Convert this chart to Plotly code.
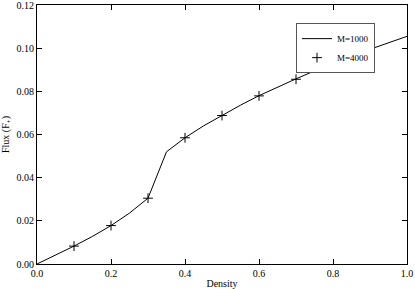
import plotly.graph_objects as go

x_line = [0.0, 0.05, 0.1, 0.15, 0.2, 0.25, 0.3, 0.35, 0.4, 0.45, 0.5, 0.55, 0.6, 0.65, 0.7, 0.75, 0.8, 0.85, 0.9, 0.95, 1.0]
y_line = [0.0, 0.0041, 0.0083, 0.0128, 0.0178, 0.0236, 0.0305, 0.0520, 0.0585, 0.0640, 0.0690, 0.0736, 0.0780, 0.0820, 0.0858, 0.0895, 0.0930, 0.0963, 0.0995, 0.1025, 0.1055]
x_mark = [0.1, 0.2, 0.3, 0.4, 0.5, 0.6, 0.7, 0.8, 0.9]
y_mark = [0.0083, 0.0178, 0.0305, 0.0585, 0.0688, 0.0779, 0.0856, 0.0928, 0.0993]
x_ticks = [0.0, 0.2, 0.4, 0.6, 0.8, 1.0]
y_ticks = [0.0, 0.02, 0.04, 0.06, 0.08, 0.10, 0.12]

fnt = dict(family="Liberation Serif", size=10, color="black")

fig = go.Figure()
fig.add_trace(go.Scatter(x=x_line, y=y_line, mode="lines", name="M=1000",
                         line=dict(color="black", width=1)))
fig.add_trace(go.Scatter(x=x_mark, y=y_mark, mode="markers", name="M=4000",
                         marker=dict(symbol="cross-thin", size=7, color="black",
                                     line=dict(color="black", width=1))))

axis_common = dict(showgrid=False, zeroline=False, showline=True, linecolor="black", linewidth=1,
                   mirror="ticks", ticks="inside", ticklen=5, tickcolor="black", tickfont=fnt,
                   automargin=False, ticklabelstandoff=0, ticklabeloverflow="allow")
fig.update_xaxes(range=[0, 1], tickmode="array", tickvals=x_ticks, ticktext=[f"{v:.1f}" for v in x_ticks],
                 title=dict(text="Density", font=fnt), **axis_common)
fig.update_yaxes(range=[0, 0.12002], tickmode="array", tickvals=y_ticks, ticktext=[f"{v:.2f}" for v in y_ticks],
                 title=dict(text="Flux (F<sub>+</sub>)", font=fnt), **axis_common)

fig.update_layout(width=415, height=289, margin=dict(l=37, r=8, t=5, b=25),
                  paper_bgcolor="white", plot_bgcolor="white", font=fnt,
                  legend=dict(x=0.70, y=0.93, xanchor="left", yanchor="top", bgcolor="white",
                              bordercolor="#555", borderwidth=1, font=dict(family="Liberation Serif", size=9, color="black"),
                              itemwidth=30, tracegroupgap=0))
fig.write_html("out.html", config={"displayModeBar": False},
               post_script="document.body.style.margin='0';document.body.style.overflow='hidden';")
